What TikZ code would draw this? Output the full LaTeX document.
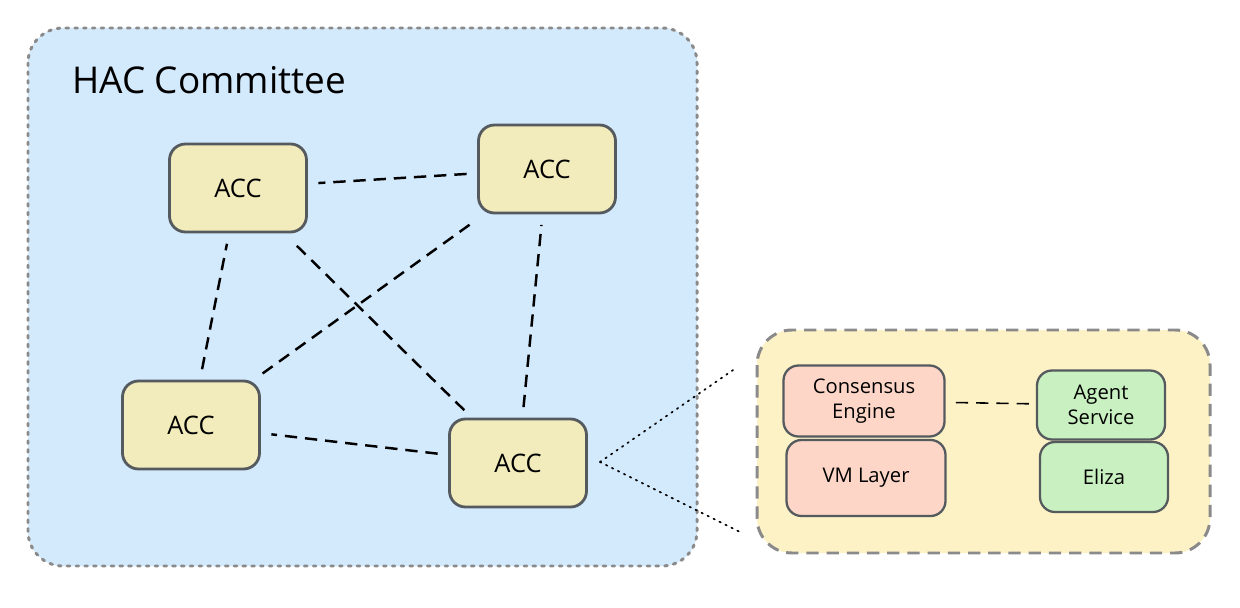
\documentclass[tikz,border=0pt]{standalone}
\usepackage{fontspec}
\setmainfont{Open Sans}
\usepackage{tikz}
\definecolor{committeebg}{HTML}{D3E9FC}
\definecolor{accfill}{HTML}{F2EBBB}
\definecolor{nodeline}{HTML}{555A5E}
\definecolor{serverbg}{HTML}{FDF1C6}
\definecolor{corefill}{HTML}{FDD6C8}
\definecolor{agentfill}{HTML}{C9F0C0}
\definecolor{frameline}{HTML}{8A8A8A}
\tikzstyle{acc}=[shape=rectangle,rounded corners=0.32cm,draw=nodeline,line width=1.6pt,fill=accfill,minimum width=2.74cm,minimum height=1.76cm,font=\fontsize{14.5}{17}\selectfont]
\tikzstyle{part}=[shape=rectangle,rounded corners=0.3cm,draw=nodeline,line width=1.3pt,align=center,font=\fontsize{11.5}{14}\selectfont]
\tikzstyle{link}=[dash pattern=on 7pt off 4.5pt,line width=1.4pt,shorten >=6pt,shorten <=6pt]
\tikzstyle{zoomline}=[dash pattern=on 0.8pt off 3pt,line width=1pt,line cap=round]

\begin{document}
\begin{tikzpicture}
            \useasboundingbox (0,0) rectangle (24.8,-12.16);
            \draw[frameline,fill=committeebg,line width=1.7pt,dash pattern=on 1.5pt off 3.5pt,line cap=round,rounded corners=0.7cm]
                (0.56,-0.56) rectangle (13.94,-11.32);
            \node[anchor=west,font=\fontsize{21}{25}\selectfont] (title) at (1.32,-1.6) {HAC Committee};
            \node[acc] (A) at (4.76, -3.76) {ACC}
            ;
            \node[acc] (B) at (10.94, -3.38) {ACC}
                edge[link] (A)
            ;
            \node[acc] (C) at (3.82, -8.5) {ACC}
                edge[link] (A)
                edge[link] (B)
            ;
            \node[acc] (D) at (10.36, -9.26) {ACC}
                edge[link] (A)
                edge[link] (B)
                edge[link] (C)
            ;
            \draw[frameline,fill=serverbg,line width=1.7pt,dash pattern=on 7pt off 4.5pt,rounded corners=0.7cm]
                (15.14,-6.6) rectangle (24.2,-11.06);
            \node[part,fill=corefill,minimum width=3.22cm,minimum height=1.42cm] (CE) at (17.28, -8.02) {Consensus\\Engine}
            ;
            \node[part,fill=corefill,minimum width=3.18cm,minimum height=1.52cm] (VM) at (17.32, -9.56) {VM Layer}
            ;
            \node[part,fill=agentfill,minimum width=2.56cm,minimum height=1.38cm] (AS) at (22.02, -8.1) {Agent\\Service}
                edge[link,line width=0.9pt,shorten >=4pt,shorten <=4pt] (CE)
            ;
            \node[part,fill=agentfill,minimum width=2.56cm,minimum height=1.4cm] (EL) at (22.08, -9.54) {Eliza}
            ;
            \coordinate (zoomA) at (12.0, -9.24);
            \coordinate (zoomB) at (14.72, -7.36);
            \coordinate (zoomC) at (14.84, -10.66);
            \draw[zoomline] (zoomA) -- (zoomB);
            \draw[zoomline] (zoomA) -- (zoomC);
        \end{tikzpicture}
\end{document}
